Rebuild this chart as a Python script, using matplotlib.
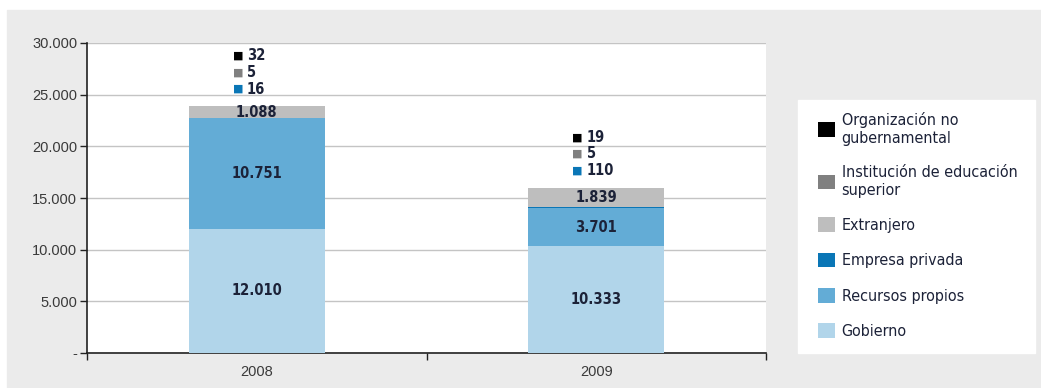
import matplotlib.pyplot as plt
from matplotlib.patches import Rectangle, Patch
from matplotlib.ticker import FuncFormatter

# data
years = ['2008', '2009']
gobierno = [12010, 10333]
recursos_propios = [10751, 3701]
empresa_privada = [16, 110]
extranjero = [1088, 1839]
institucion = [5, 5]
ong = [32, 19]

series = [
    ('Gobierno', gobierno, '#b1d5ea'),
    ('Recursos propios', recursos_propios, '#63acd6'),
    ('Empresa privada', empresa_privada, '#0a76b6'),
    ('Extranjero', extranjero, '#bebebe'),
    ('Institución de educación\nsuperior', institucion, '#808080'),
    ('Organización no\ngubernamental', ong, '#000000'),
]
inside = ['Gobierno', 'Recursos propios', 'Extranjero']

narrow = ['DejaVu Sans']
regular = ['Liberation Sans', 'DejaVu Sans']
txt_col = '#1c2238'

fig = plt.figure(figsize=(10.41, 3.88), dpi=100)
fig.patch.set_facecolor('white')
# light gray panel behind everything
fig.patches.append(Rectangle((7 / 1041, 0), 1 - 7 / 1041, 1 - 10 / 388,
                             transform=fig.transFigure, color='#ebebeb', zorder=0))
# legend box
fig.patches.append(Rectangle((798 / 1041, 35 / 388), 237 / 1041, 253 / 388,
                             transform=fig.transFigure, color='white', zorder=1))

ax = fig.add_axes([87 / 1041, 35 / 388, 679 / 1041, 310 / 388])
ax.set_facecolor('white')
ax.set_zorder(2)

x = list(range(len(years)))
bottom = [0] * len(years)
for name, vals, col in series:
    ax.bar(x, vals, 0.40, bottom=bottom, color=col, linewidth=0, zorder=3)
    if name in inside:
        for i, v in enumerate(vals):
            ax.text(x[i], bottom[i] + v / 2, f'{v:,}'.replace(',', '.'),
                    ha='center', va='center', fontsize=10.5, fontweight='bold',
                    fontstretch='condensed', color=txt_col, family=narrow, zorder=4)
    bottom = [b + v for b, v in zip(bottom, vals)]

# small values stacked above each bar
small = [(empresa_privada, '#0a76b6'), (institucion, '#808080'), (ong, '#000000')]
for i in x:
    for k, (vals, col) in enumerate(small):
        dy = 12.2 + 12.0 * k
        ax.annotate('■', xy=(x[i], bottom[i]), xytext=(-13.5, dy), textcoords='offset points',
                    ha='center', va='center', fontsize=8, color=col, family='DejaVu Sans')
        ax.annotate(str(vals[i]), xy=(x[i], bottom[i]), xytext=(-7, dy), textcoords='offset points',
                    ha='left', va='center', fontsize=10.5, fontweight='bold',
                    fontstretch='condensed', color=txt_col, family=narrow)

ax.set_xlim(-0.5, 1.5)
ax.set_ylim(0, 30000)
ax.set_yticks(range(0, 30001, 5000))
ax.yaxis.set_major_formatter(FuncFormatter(
    lambda v, p: '-' if v == 0 else f'{int(v):,}'.replace(',', '.')))
ax.grid(axis='y', color='#c4c4c4', linewidth=1, zorder=1)
ax.set_axisbelow(True)

ax.set_xticks(x)
ax.set_xticklabels(years)
ax.set_xticks([-0.5, 0.5, 1.5], minor=True)
ax.tick_params(axis='x', which='major', length=0, pad=9)
ax.tick_params(axis='x', which='minor', length=5, width=1, color='#222222', direction='out')
ax.tick_params(axis='y', length=5, width=1, color='#222222', direction='out', pad=2)
for lab in ax.get_xticklabels() + ax.get_yticklabels():
    lab.set_fontsize(10.5)
    lab.set_family(regular)
    lab.set_color('#3a3a3a')

for s in ['top', 'right']:
    ax.spines[s].set_visible(False)
for s in ['left', 'bottom']:
    ax.spines[s].set_color('#222222')
    ax.spines[s].set_linewidth(1.2)

handles = [Patch(facecolor=col, edgecolor='none', label=name) for name, vals, col in series][::-1]
leg = fig.legend(handles=handles, loc='upper left', bbox_to_anchor=(812 / 1041, 1 - 106 / 388),
                 frameon=False, handlelength=1.05, handleheight=1.05,
                 handletextpad=0.4, labelspacing=1.22, borderaxespad=0,
                 prop={'family': narrow, 'size': 11.5, 'stretch': 'condensed'})
for t in leg.get_texts():
    t.set_color(txt_col)
    t.set_linespacing(1.2)

fig.savefig('out.png', dpi=100)
